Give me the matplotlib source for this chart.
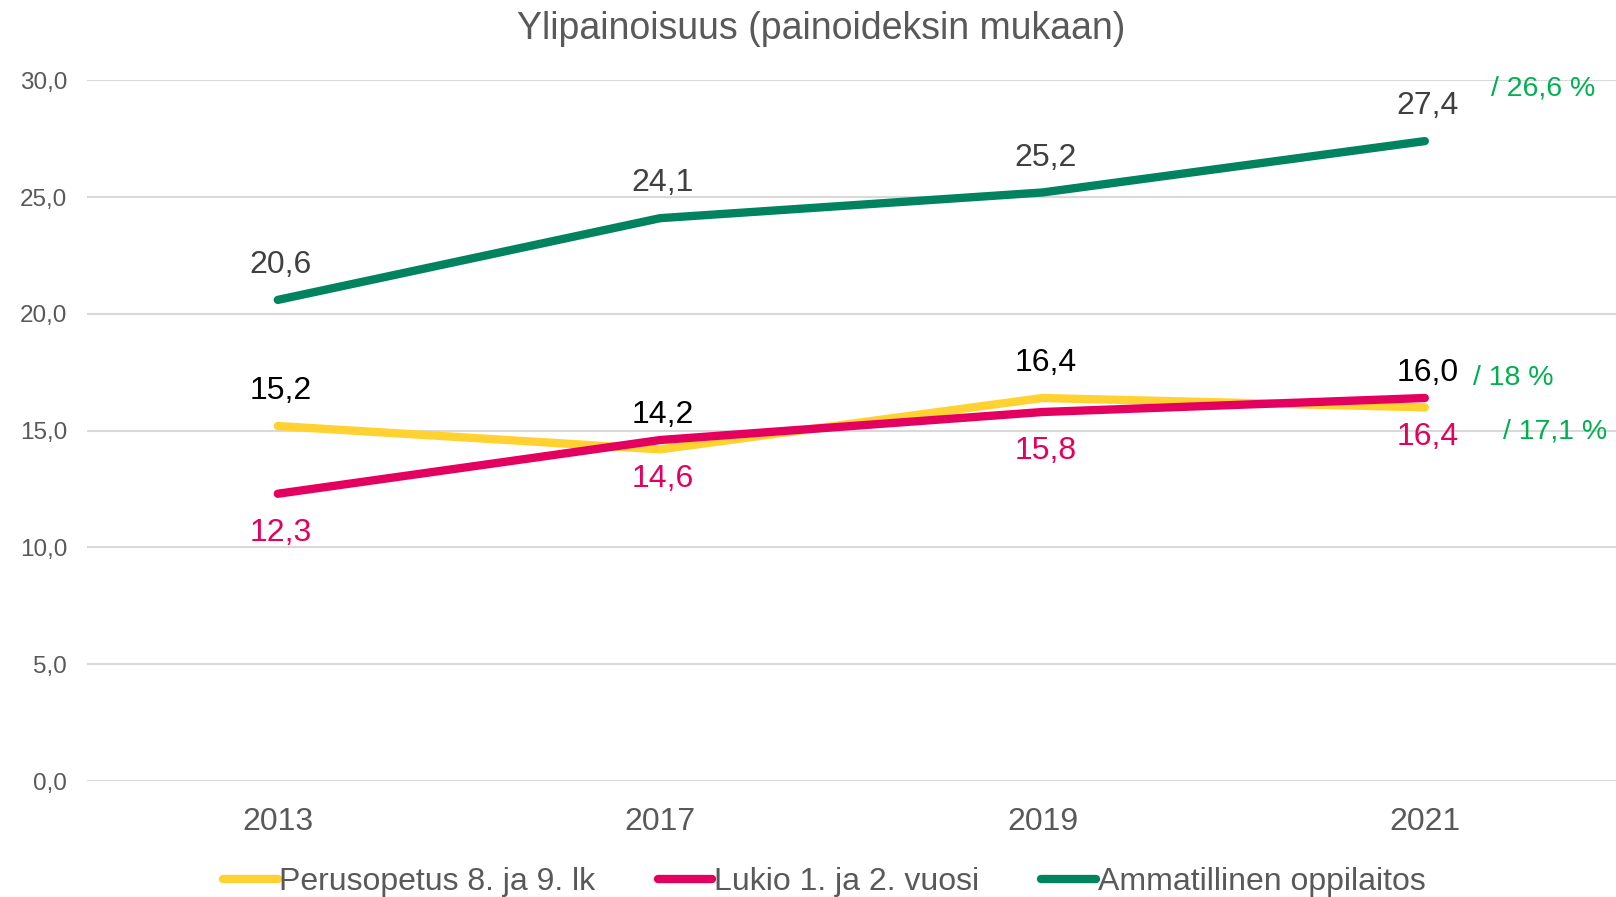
import matplotlib
matplotlib.use("Agg")
import matplotlib.pyplot as plt

plt.rcParams["font.family"] = ["Liberation Sans", "DejaVu Sans"]

years = ["2013", "2017", "2019", "2021"]
perusopetus = [15.2, 14.2, 16.4, 16.0]
lukio = [12.3, 14.6, 15.8, 16.4]
ammatillinen = [20.6, 24.1, 25.2, 27.4]
series_names = ["Perusopetus 8. ja 9. lk", "Lukio 1. ja 2. vuosi", "Ammatillinen oppilaitos"]
extra_notes = ["/ 26,6 %", "/ 18 %", "/ 17,1 %"]
extra_y = [29.65, 17.27, 14.95]  # where the side notes sit, on the y scale

c_yellow = "#FFD232"
c_red = "#E4005F"
c_green = "#00835E"
c_note = "#00B050"
gray = "#595959"

fig = plt.figure(figsize=(16.16, 8.97), dpi=100)
ax = fig.add_axes([0.0536, 0.1293, 0.9464, 0.7811])
x = range(len(years))

l1, = ax.plot(x, perusopetus, color=c_yellow, lw=6, solid_capstyle="round", zorder=3)
l2, = ax.plot(x, lukio, color=c_red, lw=6, solid_capstyle="round", zorder=4)
l3, = ax.plot(x, ammatillinen, color=c_green, lw=6, solid_capstyle="round", zorder=5)

def fmt(v):
    return f"{v:.1f}".replace(".", ",")

for i, v in enumerate(ammatillinen):
    ax.annotate(fmt(v), (i, v), xytext=(2, 25), textcoords="offset points",
                ha="center", va="center", fontsize=23, color="#404040")
for i, v in enumerate(perusopetus):
    ax.annotate(fmt(v), (i, v), xytext=(2, 25), textcoords="offset points",
                ha="center", va="center", fontsize=23, color="black")
for i, v in enumerate(lukio):
    ax.annotate(fmt(v), (i, v), xytext=(2, -28), textcoords="offset points",
                ha="center", va="center", fontsize=23, color=c_red)

note_x = [3.31, 3.23, 3.34]
for nx, ny, t in zip(note_x, extra_y, extra_notes):
    ax.text(nx, ny, t, ha="center", va="center", fontsize=20.5, color=c_note, clip_on=False)

ax.set_xlim(-0.5, 3.5)
ax.set_ylim(0, 30)
ax.set_yticks([0, 5, 10, 15, 20, 25, 30])
ax.set_yticklabels([fmt(t) for t in [0, 5, 10, 15, 20, 25, 30]], fontsize=17.5, color=gray)
ax.set_xticks(list(x))
ax.set_xticklabels(years, fontsize=23, color=gray)
ax.tick_params(axis="y", length=0, pad=14)
ax.tick_params(axis="x", length=0, pad=19)
ax.grid(axis="y", color="#D9D9D9", lw=1.5)
ax.set_axisbelow(True)
for s in ax.spines.values():
    s.set_visible(False)

fig.text(0.508, 0.968, "Ylipainoisuus (painoideksin mukaan)", ha="center", va="center",
         fontsize=27, color=gray)

fig.legend([l1, l2, l3], series_names, loc="center", bbox_to_anchor=(0.51, 0.017),
           ncol=3, frameon=False, handlelength=1.72, handletextpad=0.05, columnspacing=1.94,
           prop={"size": 23}, labelcolor=gray)

fig.savefig("out.png", dpi=100)
